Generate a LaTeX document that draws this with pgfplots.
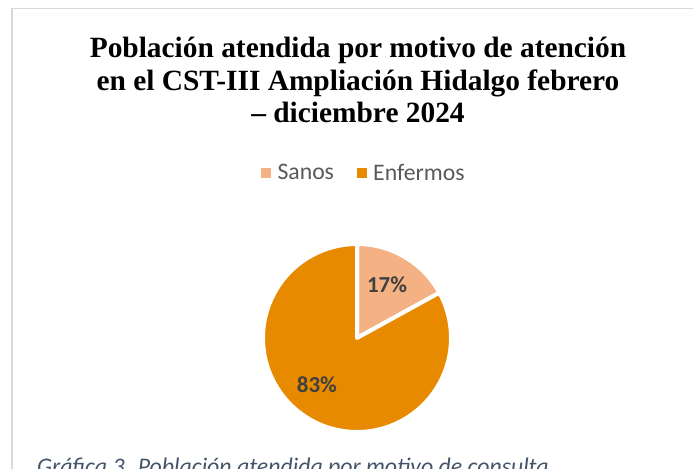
\documentclass[border=0pt]{standalone}
\usepackage{pgfplots}
\usepackage{pgfplotstable}
\pgfplotsset{compat=1.18}
\usepackage{fontspec}
\setmainfont{Liberation Serif}
\newfontfamily\carlito{Carlito}
\definecolor{sanos}{RGB}{244,177,131}
\definecolor{enfermos}{RGB}{232,138,0}
\definecolor{labgray}{RGB}{64,64,64}
\definecolor{leggray}{RGB}{89,89,89}
\definecolor{capblue}{RGB}{68,84,106}
\definecolor{frame}{RGB}{217,217,217}

% motivo de atencion, porcentaje
\pgfplotstableread{
motivo valor
Sanos 17
Enfermos 83
}\motivos
\pgfplotstablegetelem{0}{valor}\of\motivos \edef\vsanos{\pgfplotsretval}
\pgfmathsetmacro\asanos{90-3.6*\vsanos}

\begin{document}
\begin{tikzpicture}
\useasboundingbox (0,0) rectangle (693bp,469bp);
\clip (0,0) rectangle (693bp,469bp);
\draw[frame, line width=1.7bp] (12bp,-5bp) -- (12bp,460.5bp) -- (700bp,460.5bp);

\tikzset{ttl/.style={anchor=base, inner sep=0, font=\bfseries\fontsize{29.5}{32}\selectfont}}
\node[ttl] at (358bp,411bp) {Población atendida por motivo de atención};
\node[ttl] at (358bp,378.5bp) {en el CST-III Ampliación Hidalgo febrero};
\node[ttl] at (358bp,346bp) {– diciembre 2024};

\begin{axis}[
  at={(357bp,131bp)}, anchor=center,
  width=188bp, height=188bp, scale only axis,
  xmin=-1, xmax=1, ymin=-1, ymax=1,
  hide axis, clip=false,
  legend columns=2,
  legend style={draw=none, fill=none, at={(axis description cs:0.537,1.378)},
    anchor=center, font=\carlito\fontsize{23.8}{27}\selectfont, text=leggray,
    /tikz/every even column/.append style={column sep=21bp}},
]
\addlegendimage{legend image code/.code={\fill[sanos] (0bp,-4.5bp) rectangle (9bp,4.5bp); \path[draw=none] (0bp,0bp) -- (14bp,0bp);}}
\addlegendentry{Sanos}
\addlegendimage{legend image code/.code={\fill[enfermos] (0bp,-4.5bp) rectangle (9bp,4.5bp); \path[draw=none] (0bp,0bp) -- (14bp,0bp);}}
\addlegendentry{Enfermos}

\filldraw[fill=sanos, draw=white, line width=4bp, line join=round]
  (axis cs:0,0) -- (axis cs:0,1) arc[start angle=90, end angle=\asanos, radius=94bp] -- cycle;
\filldraw[fill=enfermos, draw=white, line width=4bp, line join=round]
  (axis cs:0,0) -- (axis cs:{cos(\asanos)},{sin(\asanos)})
  arc[start angle=\asanos, end angle=-270, radius=94bp] -- cycle;

\node[font=\carlito\bfseries\fontsize{23}{26}\selectfont, text=labgray]
  at (axis cs:0.319,0.564) {17\%};
\node[font=\carlito\bfseries\fontsize{23}{26}\selectfont, text=labgray]
  at (axis cs:-0.426,-0.5) {83\%};
\end{axis}

\node[anchor=base west, inner sep=0, font=\carlito\itshape\fontsize{23.9}{27}\selectfont, text=capblue]
  at (37bp,-5bp) {Gráfica 3. Población atendida por motivo de consulta};
\end{tikzpicture}
\end{document}
